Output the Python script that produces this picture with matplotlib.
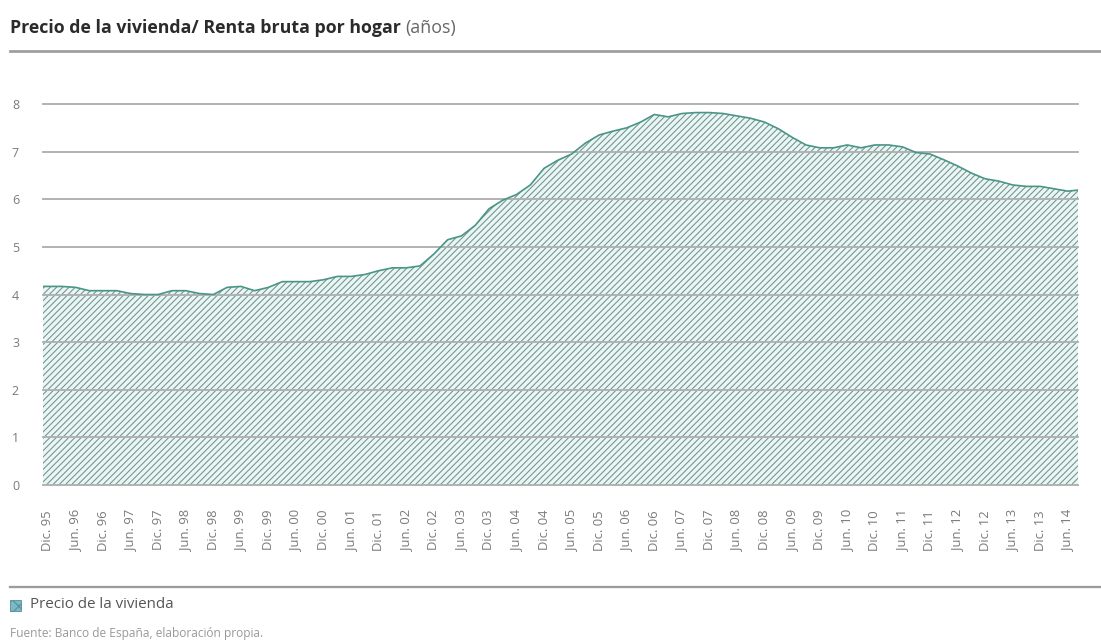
import matplotlib.pyplot as plt
import matplotlib.patches as mpatches
import numpy as np

plt.rcParams['font.family'] = ['Open Sans', 'DejaVu Sans']
plt.rcParams['hatch.linewidth'] = 1.0
plt.rcParams['hatch.color'] = '#76918d'

# quarterly ratio price / gross household income (years), Sep 95 .. Sep 14
ratio = [4.17,
         4.17, 4.17, 4.15, 4.08, 4.08, 4.08, 4.02, 4.00, 4.00, 4.08,
         4.08, 4.02, 4.00, 4.15, 4.17, 4.08, 4.15, 4.27, 4.27, 4.27,
         4.31, 4.38, 4.38, 4.42, 4.50, 4.56, 4.56, 4.60, 4.85, 5.15,
         5.23, 5.45, 5.80, 5.98, 6.10, 6.30, 6.65, 6.82, 6.95, 7.18,
         7.35, 7.43, 7.50, 7.62, 7.78, 7.73, 7.80, 7.82, 7.82, 7.80,
         7.75, 7.70, 7.62, 7.48, 7.30, 7.14, 7.08, 7.08, 7.14, 7.08,
         7.14, 7.14, 7.10, 6.98, 6.95, 6.83, 6.70, 6.55, 6.43, 6.38,
         6.30, 6.27, 6.27, 6.22, 6.17, 6.20]
quarter = np.arange(len(ratio)) - 1  # 0 = Dic. 95

years = ['95', '96', '97', '98', '99', '00', '01', '02', '03', '04',
         '05', '06', '07', '08', '09', '10', '11', '12', '13', '14']
tick_labels = ['Dic. 95']
for yy in years[1:]:
    tick_labels.append('Jun. ' + yy)
    if yy != '14':
        tick_labels.append('Dic. ' + yy)
tick_pos = np.arange(len(tick_labels)) * 2

line_col = '#4a9587'
fill_col = '#e8f6f4'
grid_col = '#b0b0b0'

W, H, DPI = 1101, 642, 75
fig = plt.figure(figsize=(W / DPI, H / DPI), dpi=DPI)
ax = fig.add_axes([43 / W, 1 - 485 / H, 1035 / W, 381 / H])

ax.fill_between(quarter, ratio, 0, facecolor=fill_col, edgecolor='#76918d',
                hatch='////', linewidth=0, zorder=1)
ax.plot(quarter, ratio, color=line_col, lw=1.6, zorder=4)
for v in range(0, 9):
    ax.axhline(v, color=grid_col, lw=1.8, zorder=3, clip_on=False)

ax.set_xlim(-0.36, 74.74)
ax.set_ylim(0, 8)
for s in ax.spines.values():
    s.set_visible(False)

ax.set_yticks(range(0, 9))
ax.set_yticklabels([str(v) for v in range(0, 9)], fontsize=12, color='#7a7a7a')
ax.set_xticks(tick_pos)
ax.set_xticklabels(tick_labels, rotation=90, fontsize=12.5, color='#7a7a7a',
                   va='top', ha='center')
ax.tick_params(axis='y', length=0, pad=23)
ax.tick_params(axis='x', length=0, pad=24)

# header
fig.text(10 / W, 1 - 28 / H, 'Precio de la vivienda/ Renta bruta por hogar',
         fontsize=17, fontweight='bold', color='#2b2b2b', va='center', ha='left')
fig.canvas.draw()
bb = fig.texts[0].get_window_extent()
fig.text(bb.x1 / W + 4 / W, 1 - 28 / H, '(años)', fontsize=17, color='#666666',
         va='center', ha='left')
fig.add_artist(plt.Line2D([10 / W, 1], [1 - 51 / H, 1 - 51 / H],
                          color='#9c9c9c', lw=2.6))

# footer
fig.add_artist(plt.Line2D([10 / W, 1], [1 - 587 / H, 1 - 587 / H],
                          color='#9c9c9c', lw=2.2))
fig.add_artist(mpatches.Rectangle((10 / W, 1 - 611 / H), 11 / W, 11 / H,
                                  facecolor='#7fb7c4', edgecolor='#4c8f9e',
                                  hatch='xx', lw=0.8))
fig.text(30 / W, 1 - 605 / H, 'Precio de la vivienda', fontsize=14.5,
         color='#555555', va='center', ha='left')
fig.text(10 / W, 1 - 633 / H, 'Fuente: Banco de España, elaboración propia.',
         fontsize=11.5, color='#9a9a9a', va='center', ha='left')

fig.savefig('out.png', dpi=DPI)
